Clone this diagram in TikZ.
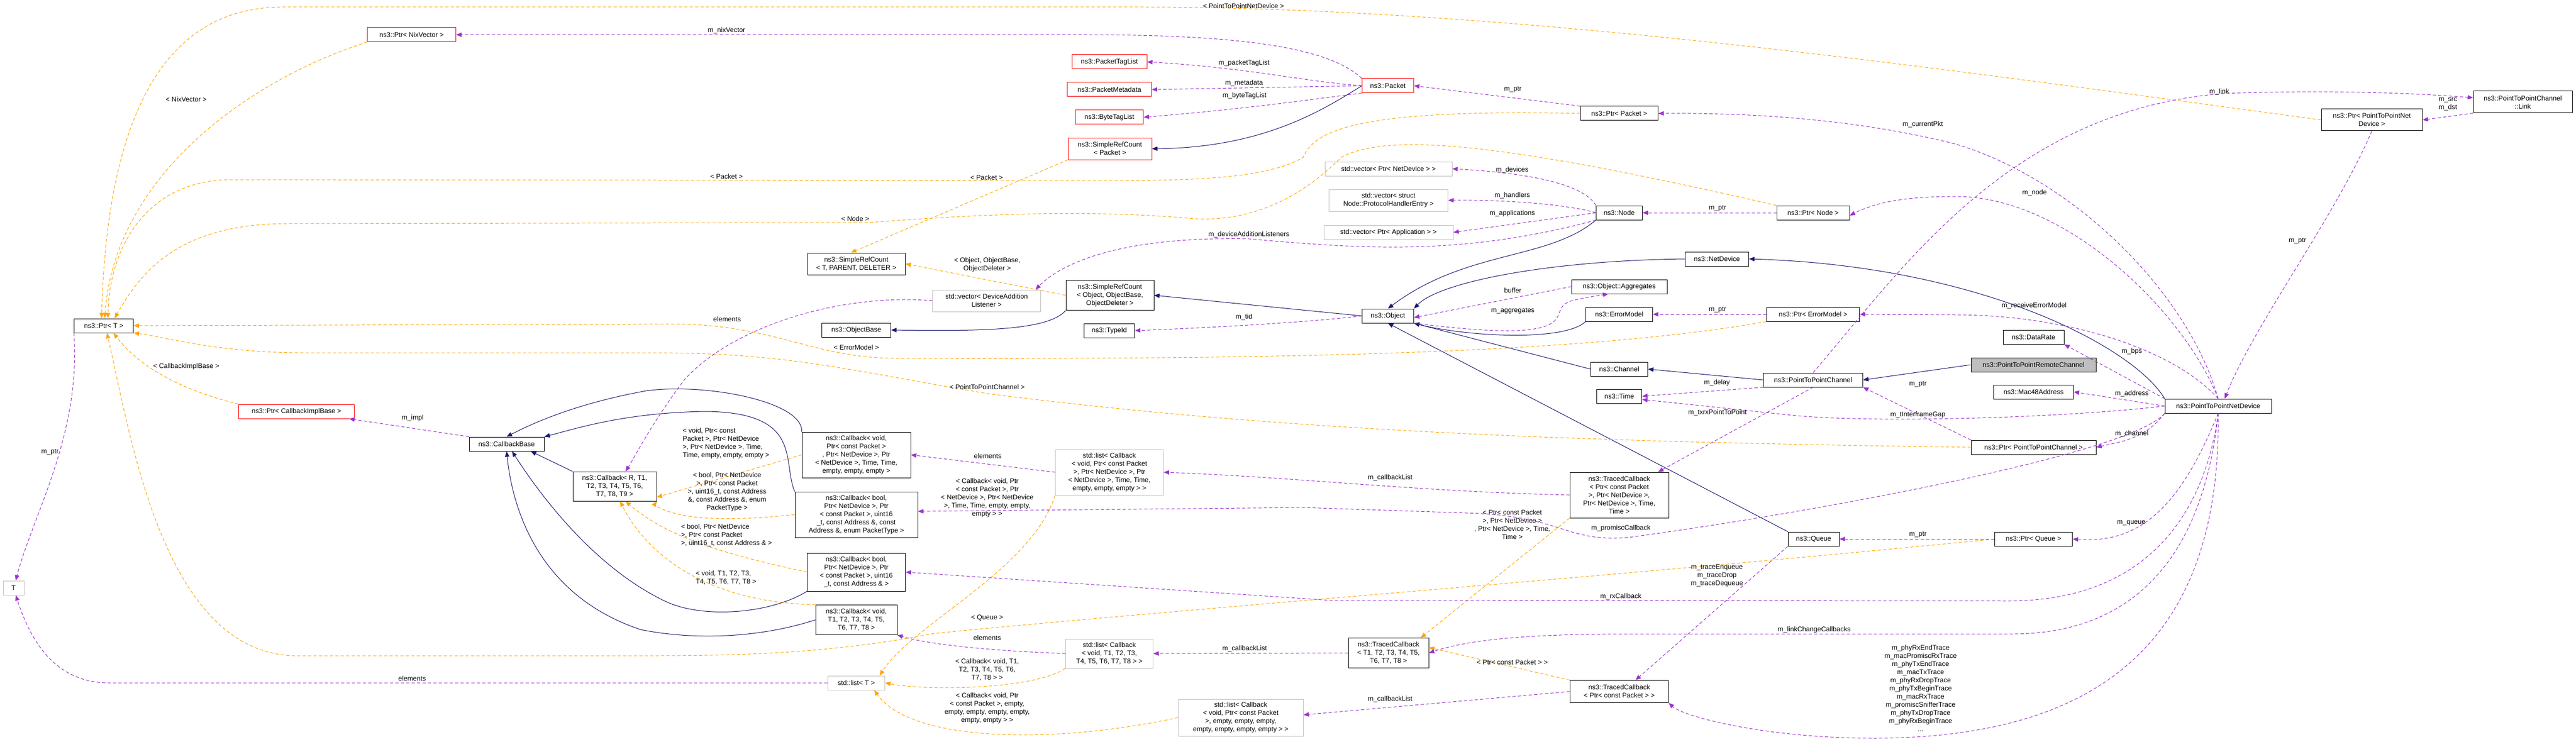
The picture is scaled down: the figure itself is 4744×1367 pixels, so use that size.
\documentclass[tikz,border=0pt]{standalone}
\usepackage{fontspec}
\setmainfont{Liberation Sans}
\usetikzlibrary{arrows.meta}
\definecolor{inh}{HTML}{191970}
\definecolor{use}{HTML}{9A32CD}
\definecolor{tpl}{HTML}{FFA500}
\definecolor{grayb}{HTML}{BFBFBF}
\begin{document}
\begin{tikzpicture}[x=1pt,y=-1pt,
  every node/.style={font=\fontsize{12.5}{15}\selectfont},
  box/.style={draw=black,line width=1pt,fill=white,align=center,inner sep=2pt},
  rbox/.style={box,draw=red},
  gbox/.style={box,draw=grayb},
  lab/.style={align=center,inner sep=1pt},
  ib/.style={draw=inh,line width=1pt,-{Triangle[length=10pt,width=8pt]}},
  us/.style={draw=use,line width=1pt,dash pattern=on 6pt off 4pt,-{Triangle[length=10pt,width=8pt]}},
  tp/.style={draw=tpl,line width=1pt,dash pattern=on 6pt off 4pt,-{Triangle[length=10pt,width=8pt]}}]
\useasboundingbox (0,0) rectangle (4744,1367);
% nodes
\node[rbox,minimum width=163,minimum height=26] (ptrnix) at (758,64) {ns3::Ptr< NixVector >};
\node[box,minimum width=109,minimum height=26] (ptrT) at (191,600) {ns3::Ptr< T >};
\node[rbox,minimum width=213,minimum height=26] (ptrcib) at (546,758) {ns3::Ptr< CallbackImplBase >};
\node[box,minimum width=138,minimum height=26] (cbbase) at (933,818) {ns3::CallbackBase};
\node[box,minimum width=154,minimum height=54] (cbR) at (1132,896) {ns3::Callback< R, T1,\\T2, T3, T4, T5, T6,\\T7, T8, T9 >};
\node[gbox,minimum width=38,minimum height=26] (T) at (25,1083) {T};
\node[rbox,minimum width=138,minimum height=26] (ptl) at (2043,114) {ns3::PacketTagList};
\node[rbox,minimum width=155,minimum height=26] (pmd) at (2043,165) {ns3::PacketMetadata};
\node[rbox,minimum width=125,minimum height=26] (btl) at (2043,216) {ns3::ByteTagList};
\node[rbox,minimum width=154,minimum height=40] (srcpkt) at (2044,274) {ns3::SimpleRefCount\\< Packet >};
\node[box,minimum width=180,minimum height=40] (srcT) at (1577,486) {ns3::SimpleRefCount\\< T, PARENT, DELETER >};
\node[gbox,minimum width=199,minimum height=40] (vecdal) at (1817,554) {std::vector< DeviceAddition\\Listener >};
\node[box,minimum width=162,minimum height=55] (srcobj) at (2044,544) {ns3::SimpleRefCount\\< Object, ObjectBase,\\ObjectDeleter >};
\node[box,minimum width=127,minimum height=26] (objbase) at (1577,608) {ns3::ObjectBase};
\node[box,minimum width=93,minimum height=26] (typeid) at (2043,609) {ns3::TypeId};
\node[box,minimum width=200,minimum height=84] (cb1) at (1577,838) {ns3::Callback< void,\\Ptr< const Packet >\\, Ptr< NetDevice >, Ptr\\< NetDevice >, Time, Time,\\empty, empty, empty >};
\node[box,minimum width=226,minimum height=84] (cb2) at (1577,948) {ns3::Callback< bool,\\Ptr< NetDevice >, Ptr\\< const Packet >, uint16\\\_t, const Address \&, const\\Address \&, enum PacketType >};
\node[box,minimum width=181,minimum height=70] (cb3) at (1577,1054) {ns3::Callback< bool,\\Ptr< NetDevice >, Ptr\\< const Packet >, uint16\\\_t, const Address \& >};
\node[box,minimum width=150,minimum height=55] (cb4) at (1577,1142) {ns3::Callback< void,\\T1, T2, T3, T4, T5,\\T6, T7, T8 >};
\node[gbox,minimum width=199,minimum height=84] (list1) at (2043,870) {std::list< Callback\\< void, Ptr< const Packet\\>, Ptr< NetDevice >, Ptr\\< NetDevice >, Time, Time,\\empty, empty, empty > >};
\node[gbox,minimum width=161,minimum height=54] (list2) at (2043,1204) {std::list< Callback\\< void, T1, T2, T3,\\T4, T5, T6, T7, T8 > >};
\node[gbox,minimum width=105,minimum height=26] (listT) at (1577,1258) {std::list< T >};
\node[gbox,minimum width=230,minimum height=68] (list3) at (2285,1322) {std::list< Callback\\< void, Ptr< const Packet\\>, empty, empty, empty,\\empty, empty, empty, empty > >};
\node[rbox,minimum width=95,minimum height=26] (packet) at (2556,158) {ns3::Packet};
\node[box,minimum width=143,minimum height=26] (ptrpkt) at (2982,209) {ns3::Ptr< Packet >};
\node[gbox,minimum width=234,minimum height=26] (vecnd) at (2557,311) {std::vector< Ptr< NetDevice > >};
\node[gbox,minimum width=219,minimum height=40] (vech) at (2557,369) {std::vector< struct\\Node::ProtocolHandlerEntry >};
\node[gbox,minimum width=238,minimum height=26] (vecapp) at (2557,428) {std::vector< Ptr< Application > >};
\node[box,minimum width=85,minimum height=26] (node) at (2982,392) {ns3::Node};
\node[box,minimum width=134,minimum height=26] (ptrnode) at (3339,392) {ns3::Ptr< Node >};
\node[box,minimum width=117,minimum height=26] (netdev) at (3162,477) {ns3::NetDevice};
\node[box,minimum width=176,minimum height=26] (aggr) at (2982,528) {ns3::Object::Aggregates};
\node[box,minimum width=95,minimum height=26] (object) at (2556,582) {ns3::Object};
\node[box,minimum width=123,minimum height=26] (errm) at (2982,579) {ns3::ErrorModel};
\node[box,minimum width=171,minimum height=26] (ptrerr) at (3339,579) {ns3::Ptr< ErrorModel >};
\node[box,minimum width=105,minimum height=26] (channel) at (2982,680) {ns3::Channel};
\node[box,minimum width=183,minimum height=26] (p2pch) at (3339,700) {ns3::PointToPointChannel};
\node[box,minimum width=83,minimum height=26] (time) at (2982,730) {ns3::Time};
\node[box,minimum width=182,minimum height=84] (tc1) at (2982,912) {ns3::TracedCallback\\< Ptr< const Packet\\>, Ptr< NetDevice >,\\Ptr< NetDevice >, Time,\\Time >};
\node[box,minimum width=94,minimum height=26] (queue) at (3340,993) {ns3::Queue};
\node[box,minimum width=148,minimum height=55] (tcT) at (2557,1203) {ns3::TracedCallback\\< T1, T2, T3, T4, T5,\\T6, T7, T8 >};
\node[box,minimum width=181,minimum height=41] (tc2) at (2982,1274) {ns3::TracedCallback\\< Ptr< const Packet > >};
\node[box,minimum width=182,minimum height=40] (link) at (4646,188) {ns3::PointToPointChannel\\::Link};
\node[box,minimum width=186,minimum height=40] (ptrp2pnd) at (4368,221) {ns3::Ptr< PointToPointNet\\Device >};
\node[box,minimum width=112,minimum height=26] (datarate) at (3745,621) {ns3::DataRate};
\node[box,fill=grayb,draw=black,minimum width=230,minimum height=26] (remote) at (3745,672) {ns3::PointToPointRemoteChannel};
\node[box,minimum width=147,minimum height=26] (mac48) at (3745,722) {ns3::Mac48Address};
\node[box,minimum width=196,minimum height=26] (p2pnd) at (4085,748) {ns3::PointToPointNetDevice};
\node[box,minimum width=230,minimum height=26] (ptrp2pch) at (3745,824) {ns3::Ptr< PointToPointChannel >};
\node[box,minimum width=143,minimum height=26] (ptrqueue) at (3745,993) {ns3::Ptr< Queue >};
% ---------------- inheritance
\draw[ib] (packet.west) .. controls (2440,200) and (2330,272) .. (srcpkt.east);
\draw[ib] (node.south west) .. controls (2850,480) and (2700,460) .. (object.north);
\draw[ib] (netdev.west) .. controls (2850,480) and (2650,520) .. (object.north east);
\draw[ib] (errm.south west) .. controls (2880,630) and (2700,620) .. (object.south east);
\draw[ib] (channel.west) -- (object.south east);
\draw[ib] (queue.north west) -- (object.south);
\draw[ib] (object.west) -- (srcobj.east);
\draw[ib] (srcobj.south west) .. controls (1930,610) and (1800,610) .. (objbase.east);
\draw[ib] (p2pch.west) -- (channel.east);
\draw[ib] (remote.west) -- (p2pch.east);
\draw[ib] (p2pnd.north west) .. controls (3930,640) and (3650,490) .. (netdev.east);
\draw[ib] (cb1.north west) .. controls (1480,740) and (1300,705) .. (1190,720) .. controls (1080,740) and (1000,770) .. (cbbase.north);
\draw[ib] (cb2.north west) .. controls (1440,850) and (1480,760) .. (1300,758) .. controls (1150,760) and (1060,790) .. (cbbase.north east);
\draw[ib] (cb3.south west) .. controls (1420,1130) and (1300,1140) .. (1230,1110) .. controls (1100,1050) and (1000,920) .. ([xshift=10pt]cbbase.south);
\draw[ib] (cb4.west) .. controls (1400,1175) and (1280,1180) .. (1180,1160) .. controls (1000,1100) and (945,950) .. (cbbase.south);
\draw[ib] (cbR.north west) -- ([xshift=-25pt]cbbase.south east);
% ---------------- template (orange)
\draw[tp] (ptrnix.south west) .. controls (450,150) and (210,330) .. ([xshift=2pt]ptrT.north);
\draw[tp] (ptrp2pnd.west) .. controls (3600,130) and (2800,13) .. (2100,13) -- (520,13) .. controls (260,13) and (195,300) .. ([xshift=-4pt]ptrT.north);
\draw[tp] (ptrpkt.west) .. controls (2500,200) and (2420,240) .. (2400,290) .. controls (2330,330) and (2200,333) .. (2000,333) -- (420,331) .. controls (260,335) and (200,470) .. ([xshift=8pt]ptrT.north);
\draw[tp] (ptrnode.north west) .. controls (2800,270) and (2560,240) .. (2470,290) .. controls (2420,340) and (2330,410) .. (2200,403) .. controls (2000,385) and (1800,395) .. (1600,410) -- (530,412) .. controls (330,412) and (260,500) .. ([xshift=20pt]ptrT.north);
\draw[tp] (ptrerr.south west) .. controls (2900,655) and (2300,662) .. (1650,660) .. controls (1500,660) and (1430,600) .. (1250,597) -- (ptrT.east);
\draw[tp] (ptrp2pch.west) .. controls (3000,815) and (2400,800) .. (1818,725) .. controls (1550,680) and (1450,650) .. (1200,650) -- (560,650) .. controls (400,650) and (300,620) .. (ptrT.south east);
\draw[tp] (ptrqueue.west) .. controls (3000,1060) and (2200,1120) .. (1720,1167) .. controls (1550,1200) and (1400,1208) .. (1200,1208) -- (540,1208) .. controls (300,1200) and (240,800) .. ([xshift=6pt]ptrT.south);
\draw[tp] (ptrcib.north west) .. controls (340,720) and (260,680) .. ([xshift=18pt]ptrT.south);
\draw[tp] (srcpkt.south west) -- ([xshift=-10pt]srcT.north);
\draw[tp] (srcobj.west) -- (srcT.east);
\draw[tp] (cb1.west) -- ([yshift=-20pt]cbR.east);
\draw[tp] (cb2.west) .. controls (1350,960) and (1250,960) .. (1205,930) -- (cbR.south east);
\draw[tp] (cb3.west) .. controls (1330,1020) and (1230,990) .. ([xshift=20pt]cbR.south);
\draw[tp] (cb4.north west) .. controls (1300,1110) and (1190,1020) .. ([xshift=10pt]cbR.south);
\draw[tp] (list1.south west) .. controls (1900,1050) and (1680,1150) .. ([xshift=-10pt]listT.north east);
\draw[tp] (list2.south west) .. controls (1900,1272) and (1700,1272) .. (listT.east);
\draw[tp] (list3.west) .. controls (1950,1370) and (1680,1370) .. ([xshift=-20pt]listT.south east);
\draw[tp] (tc1.south west) -- ([xshift=-15pt]tcT.north east);
\draw[tp] (tc2.north west) -- ([yshift=10pt]tcT.east);
% ---------------- usage (purple)
\draw[us] (ptrT.south west) .. controls (150,800) and (60,950) .. ([xshift=4pt]T.north);
\draw[us] (listT.west) -- (200,1258) .. controls (90,1258) and (50,1160) .. ([xshift=4pt]T.south);
\draw[us] (cbbase.north west) -- ([xshift=-10pt]ptrcib.south east);
\draw[us] (packet.north west) .. controls (2450,90) and (2300,64) .. (2000,64) -- (ptrnix.east);
\draw[us] (packet.west) .. controls (2400,150) and (2300,125) .. (ptl.east);
\draw[us] (packet.west) -- (pmd.east);
\draw[us] (packet.south west) .. controls (2400,185) and (2300,200) .. (btl.east);
\draw[us] (ptrpkt.north west) -- (packet.east);
\draw[us] (p2pnd.north) .. controls (4030,540) and (3820,330) .. (3600,265) .. controls (3400,215) and (3200,208) .. (ptrpkt.east);
\draw[us] (node.north west) .. controls (2920,345) and (2840,320) .. (vecnd.east);
\draw[us] (node.west) .. controls (2900,380) and (2800,368) .. (vech.east);
\draw[us] (node.west) -- (vecapp.east);
\draw[us] (node.south west) .. controls (2700,470) and (2520,460) .. (2300,440) .. controls (2050,435) and (1950,490) .. ([xshift=-10pt]vecdal.north east);
\draw[us] (vecdal.west) .. controls (1550,540) and (1350,600) .. (1260,700) .. controls (1200,780) and (1170,840) .. ([xshift=20pt]cbR.north);
\draw[us] (ptrnode.west) -- (node.east);
\draw[us] (p2pnd.north) .. controls (4020,570) and (3800,360) .. (3600,362) .. controls (3500,362) and (3450,375) .. ([yshift=-5pt]ptrnode.east);
\draw[us] (object.west) .. controls (2400,595) and (2200,605) .. (typeid.east);
\draw[us] (object.south east) .. controls (2800,620) and (2860,610) .. (2870,580) .. controls (2880,555) .. ([xshift=-20pt]aggr.south);
\draw[us] (aggr.west) -- ([yshift=-3pt]object.east);
\draw[us] (ptrerr.west) -- (errm.east);
\draw[us] (p2pnd.north) .. controls (4000,640) and (3800,580) .. (3600,580) -- (ptrerr.east);
\draw[us] (p2pnd.north west) -- (datarate.south east);
\draw[us] (p2pnd.west) -- (mac48.east);
\draw[us] (p2pnd.west) .. controls (3800,770) and (3450,780) .. (3300,765) -- ([yshift=-6pt]time.east);
\draw[us] (p2pch.south west) -- (time.east);
\draw[us] (p2pch.south) -- ([xshift=-20pt]tc1.north east);
\draw[us] (p2pch.north) .. controls (3500,500) and (3700,200) .. (4100,172) .. controls (4300,165) and (4450,172) .. ([yshift=8pt]link.west);
\draw[us] (link.south west) -- (ptrp2pnd.east);
\draw[us] (ptrp2pnd.south) .. controls (4300,400) and (4150,600) .. ([xshift=12pt]p2pnd.north);
\draw[us] (p2pnd.south west) .. controls (3950,810) and (3900,815) .. (ptrp2pch.east);
\draw[us] (ptrp2pch.north west) -- (p2pch.south east);
\draw[us] (p2pnd.south west) .. controls (3920,840) and (3300,950) .. (3000,990) .. controls (2880,1000) and (2880,950) .. (2700,945) -- (2400,935) -- ([yshift=6pt]cb2.east);
\draw[us] (p2pnd.south) .. controls (4020,920) and (3950,1003) .. (ptrqueue.east);
\draw[us] (ptrqueue.west) -- (queue.east);
\draw[us] (p2pnd.south) .. controls (4060,950) and (3950,1107) .. (3700,1107) -- (2450,1106) -- (cb3.east);
\draw[us] (p2pnd.south) .. controls (4060,1000) and (3950,1170) .. (3700,1168) -- (3000,1168) .. controls (2800,1168) and (2700,1180) .. (tcT.east);
\draw[us] (p2pnd.south) .. controls (4090,1150) and (3900,1360) .. (3450,1360) .. controls (3250,1360) and (3100,1320) .. (tc2.south east);
\draw[us] (queue.south west) -- ([xshift=30pt]tc2.north);
\draw[us] (tc1.west) .. controls (2600,905) and (2400,880) .. (list1.east);
\draw[us] (tcT.west) -- (list2.east);
\draw[us] (tc2.west) -- ([yshift=5pt]list3.east);
\draw[us] (list1.west) -- (cb1.east);
\draw[us] (list2.west) .. controls (1850,1200) and (1720,1190) .. (cb4.south east);
% ---------------- labels
\node[lab] at (343,183) {< NixVector >};
\node[lab] at (343,675) {< CallbackImplBase >};
\node[lab] at (92,833) {m\_ptr};
\node[lab] at (759,1250) {elements};
\node[lab] at (760,770) {m\_impl};
\node[lab] at (1338,56) {m\_nixVector};
\node[lab] at (2290,11) {< PointToPointNetDevice >};
\node[lab] at (2291,116) {m\_packetTagList};
\node[lab] at (2291,153) {m\_metadata};
\node[lab] at (2292,176) {m\_byteTagList};
\node[lab] at (1338,325) {< Packet >};
\node[lab] at (1817,327) {< Packet >};
\node[lab] at (1575,403) {< Node >};
\node[lab] at (2300,432) {m\_deviceAdditionListeners};
\node[lab] at (1818,488) {< Object, ObjectBase,\\ObjectDeleter >};
\node[lab] at (1339,588) {elements};
\node[lab] at (2291,584) {m\_tid};
\node[lab] at (1577,640) {< ErrorModel >};
\node[lab] at (1818,713) {< PointToPointChannel >};
\node[lab,align=left] at (1337,817) {< void, Ptr< const\\Packet >, Ptr< NetDevice\\>, Ptr< NetDevice >, Time,\\Time, empty, empty, empty >};
\node[lab] at (1339,906) {< bool, Ptr< NetDevice\\>, Ptr< const Packet\\>, uint16\_t, const Address\\\&, const Address \&, enum\\PacketType >};
\node[lab,align=left] at (1338,986) {< bool, Ptr< NetDevice\\>, Ptr< const Packet\\>, uint16\_t, const Address \& >};
\node[lab,align=left] at (1337,1064) {< void, T1, T2, T3,\\T4, T5, T6, T7, T8 >};
\node[lab] at (1819,840) {elements};
\node[lab] at (1818,917) {< Callback< void, Ptr\\< const Packet >, Ptr\\< NetDevice >, Ptr< NetDevice\\>, Time, Time, empty, empty,\\empty > >};
\node[lab] at (1818,1138) {< Queue >};
\node[lab] at (1818,1175) {elements};
\node[lab] at (1818,1234) {< Callback< void, T1,\\T2, T3, T4, T5, T6,\\T7, T8 > >};
\node[lab] at (2292,1195) {m\_callbackList};
\node[lab] at (1818,1305) {< Callback< void, Ptr\\< const Packet >, empty,\\empty, empty, empty, empty,\\empty, empty > >};
\node[lab] at (2786,165) {m\_ptr};
\node[lab] at (3541,229) {m\_currentPkt};
\node[lab] at (2785,313) {m\_devices};
\node[lab] at (2785,360) {m\_handlers};
\node[lab] at (2785,393) {m\_applications};
\node[lab] at (3163,384) {m\_ptr};
\node[lab] at (2786,535) {buffer};
\node[lab] at (2786,573) {m\_aggregates};
\node[lab] at (3163,571) {m\_ptr};
\node[lab] at (3162,705) {m\_delay};
\node[lab] at (3163,760) {m\_txrxPointToPoint};
\node[lab] at (3532,764) {m\_tInterframeGap};
\node[lab] at (3532,708) {m\_ptr};
\node[lab] at (2560,880) {m\_callbackList};
\node[lab] at (2785,967) {< Ptr< const Packet\\>, Ptr< NetDevice >\\, Ptr< NetDevice >, Time,\\Time >};
\node[lab] at (2985,973) {m\_promiscCallback};
\node[lab] at (3532,985) {m\_ptr};
\node[lab] at (3162,1060) {m\_traceEnqueue\\m\_traceDrop\\m\_traceDequeue};
\node[lab] at (2985,1099) {m\_rxCallback};
\node[lab] at (3341,1160) {m\_linkChangeCallbacks};
\node[lab] at (2785,1220) {< Ptr< const Packet > >};
\node[lab] at (2560,1288) {m\_callbackList};
\node[lab] at (3537,1268) {m\_phyRxEndTrace\\m\_macPromiscRxTrace\\m\_phyTxEndTrace\\m\_macTxTrace\\m\_phyRxDropTrace\\m\_phyTxBeginTrace\\m\_macRxTrace\\m\_promiscSnifferTrace\\m\_phyTxDropTrace\\m\_phyRxBeginTrace\\...};
\node[lab] at (4087,169) {m\_link};
\node[lab] at (4508,192) {m\_src\\m\_dst};
\node[lab] at (3747,355) {m\_node};
\node[lab] at (4231,444) {m\_ptr};
\node[lab] at (3746,563) {m\_receiveErrorModel};
\node[lab] at (3926,647) {m\_bps};
\node[lab] at (3926,725) {m\_address};
\node[lab] at (3926,799) {m\_channel};
\node[lab] at (3925,963) {m\_queue};
\end{tikzpicture}
\end{document}
